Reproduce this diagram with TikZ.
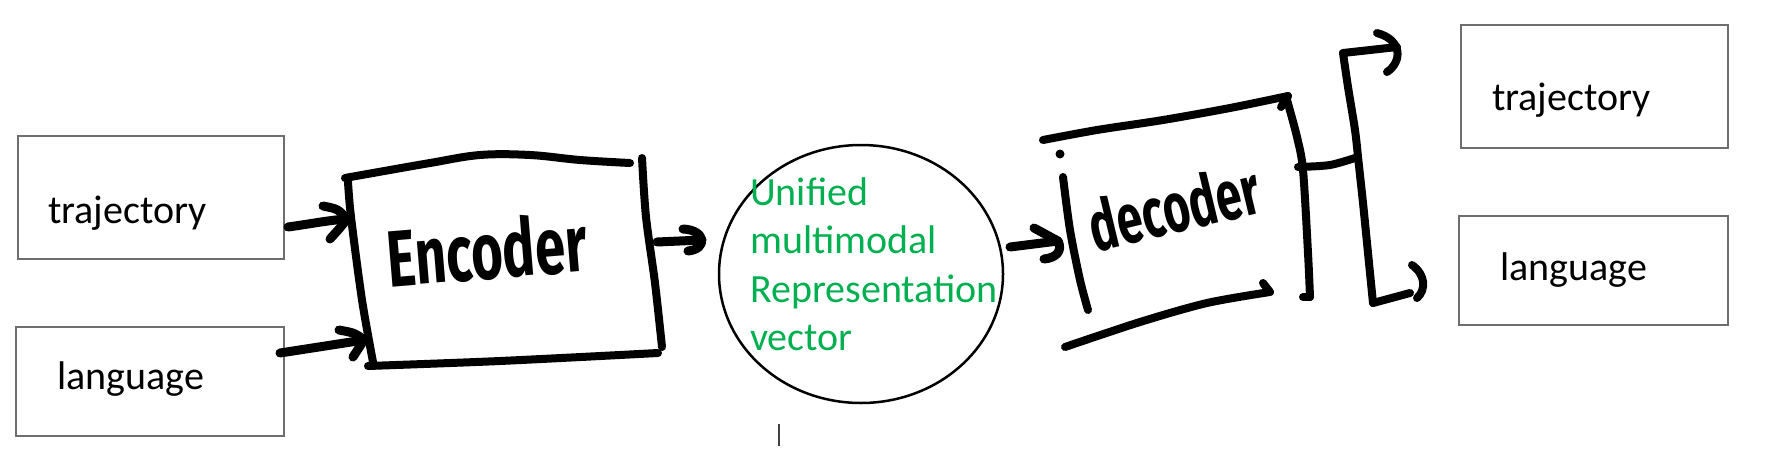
\documentclass[tikz,border=0pt]{standalone}
\usepackage{fontspec}
\setmainfont{Carlito}
\newfontfamily\handfont{Fira Sans}
\usetikzlibrary{shapes.geometric}
\definecolor{boxgray}{RGB}{110,110,110}
\definecolor{txtgreen}{RGB}{0,176,80}
\definecolor{tickgray}{RGB}{64,64,64}
\begin{document}
\begin{tikzpicture}[x=1pt,y=1pt,
  pen/.style={line width=8pt, line cap=round, line join=round},
  arrowpen/.style={line width=9pt, line cap=round, line join=round},
  inbox/.style={draw=boxgray, line width=1.5pt, inner sep=0pt},
  boxtext/.style={font=\fontsize{40}{48}\selectfont, inner sep=0pt, anchor=base west},
  greentext/.style={text=txtgreen, font=\fontsize{40}{48.5}\selectfont, inner sep=0pt, anchor=base west},
  handtext/.style={font=\handfont\bfseries\fontsize{80}{90}\selectfont, inner sep=0pt, anchor=base}]
\useasboundingbox (0,0) rectangle (1786,-450);

% plain boxes
\node[inbox, minimum width=266pt, minimum height=123pt] (trajIn) at (151,-197.5) {};
\node[inbox, minimum width=268pt, minimum height=109pt] (langIn) at (150,-381.5) {};
\node[inbox, minimum width=267pt, minimum height=123pt] (trajOut) at (1594.5,-86.5) {};
\node[inbox, minimum width=269pt, minimum height=109pt] (langOut) at (1593.5,-270.5) {};
\node[boxtext] (trajInT) at (48,-223) {trajectory};
\node[boxtext] (langInT) at (57,-389) {language};
\node[boxtext] (trajOutT) at (1492,-110) {trajectory};
\node[boxtext] (langOutT) at (1500,-280) {language};

% representation ellipse
\node[draw, ellipse, line width=2.5pt, minimum width=284pt, minimum height=258pt, inner sep=0pt] (umr) at (861,-274) {};
\node[greentext, align=left] (umrT) at (750,-350.5) {Unified\\multimodal\\Representation\\vector};

% handwritten labels
\node[handtext, rotate=4.7] (encT) at (489,-279) {\scalebox{0.68}[1]{Encoder}};
\node[handtext, font=\handfont\bfseries\fontsize{70}{80}\selectfont, rotate=13.5] (decT) at (1180,-232) {\scalebox{0.66}[1]{decoder}};

% encoder outline
\draw[pen] plot[smooth, tension=0.6] coordinates {(345,-178) (373,-173) (430,-163) (480,-155) (530,-155) (580,-160) (630,-163)};
\draw[pen] plot[smooth] coordinates {(348,-182) (351,-217) (362,-300) (373,-362)};
\draw[pen] plot[smooth] coordinates {(368,-366) (500,-361) (658,-353)};
\draw[pen] plot[smooth] coordinates {(642,-158) (646,-217) (655,-283) (662,-347)};

% arrows into encoder
\coordinate (a1s) at (288,-227); \coordinate (a1e) at (347,-219);
\draw[arrowpen] (a1s) .. controls (310,-224) and (330,-220) .. (a1e);
\draw[arrowpen] (323,-206) .. controls (338,-209) .. (a1e) .. controls (340,-228) .. (330,-239);
\coordinate (a2s) at (280,-353); \coordinate (a2e) at (364,-340);
\draw[arrowpen] (a2s) -- (a2e);
\draw[arrowpen] (339,-330) .. controls (355,-333) .. (a2e) .. controls (358,-348) .. (353,-357);

% encoder -> ellipse
\coordinate (a3s) at (657,-242); \coordinate (a3e) at (702,-240);
\draw[arrowpen] (a3s) -- (a3e);
\draw[arrowpen] (683,-229) .. controls (706,-230) and (708,-249) .. (688,-251);

% ellipse -> decoder
\coordinate (a4s) at (1010,-247); \coordinate (a4e) at (1058,-241);
\draw[arrowpen] (a4s) -- (a4e);
\draw[arrowpen] (1034,-228) -- (a4e) .. controls (1063,-251) and (1056,-258) .. (1044,-259);

% decoder outline
\draw[pen] plot[smooth] coordinates {(1043,-140) (1097,-130) (1163,-120) (1230,-108) (1288,-96)};
\draw[pen] (1288,-96) -- (1281,-107);
\fill (1060,-154) circle (4.5);
\draw[pen] plot[smooth] coordinates {(1063,-177) (1070,-230) (1080,-280) (1088,-310)};
\draw[pen] plot[smooth] coordinates {(1065,-347) (1140,-322) (1207,-303) (1270,-292)};
\draw[pen] (1270,-292) -- (1263,-283);
\draw[pen] plot[smooth] coordinates {(1287,-100) (1297,-137) (1303,-170) (1308,-253) (1310,-297)};
\draw[pen] (1310,-297) -- (1303,-297);

% output bracket
\draw[pen] plot[smooth] coordinates {(1298,-167) (1330,-165) (1358,-157)};
\draw[pen] plot[smooth] coordinates {(1343,-53) (1348,-87) (1355,-130) (1358,-157)};
\draw[pen] plot[smooth] coordinates {(1358,-157) (1363,-203) (1368,-253) (1373,-303)};
\coordinate (o1s) at (1343,-53); \coordinate (o1e) at (1397,-47);
\draw[pen] (o1s) -- (o1e);
\draw[pen] (1377,-33) .. controls (1403,-40) and (1402,-62) .. (1387,-72);
\coordinate (o2s) at (1373,-303); \coordinate (o2e) at (1410,-293);
\draw[pen] (o2s) -- (o2e);
\draw[pen] (1412,-265) .. controls (1426,-275) and (1426,-290) .. (1417,-298);

% stray tick
\coordinate (tk1) at (779,-424); \coordinate (tk2) at (779,-446);
\draw[tickgray, line width=1.3pt] (tk1) -- (tk2);
\end{tikzpicture}
\end{document}
